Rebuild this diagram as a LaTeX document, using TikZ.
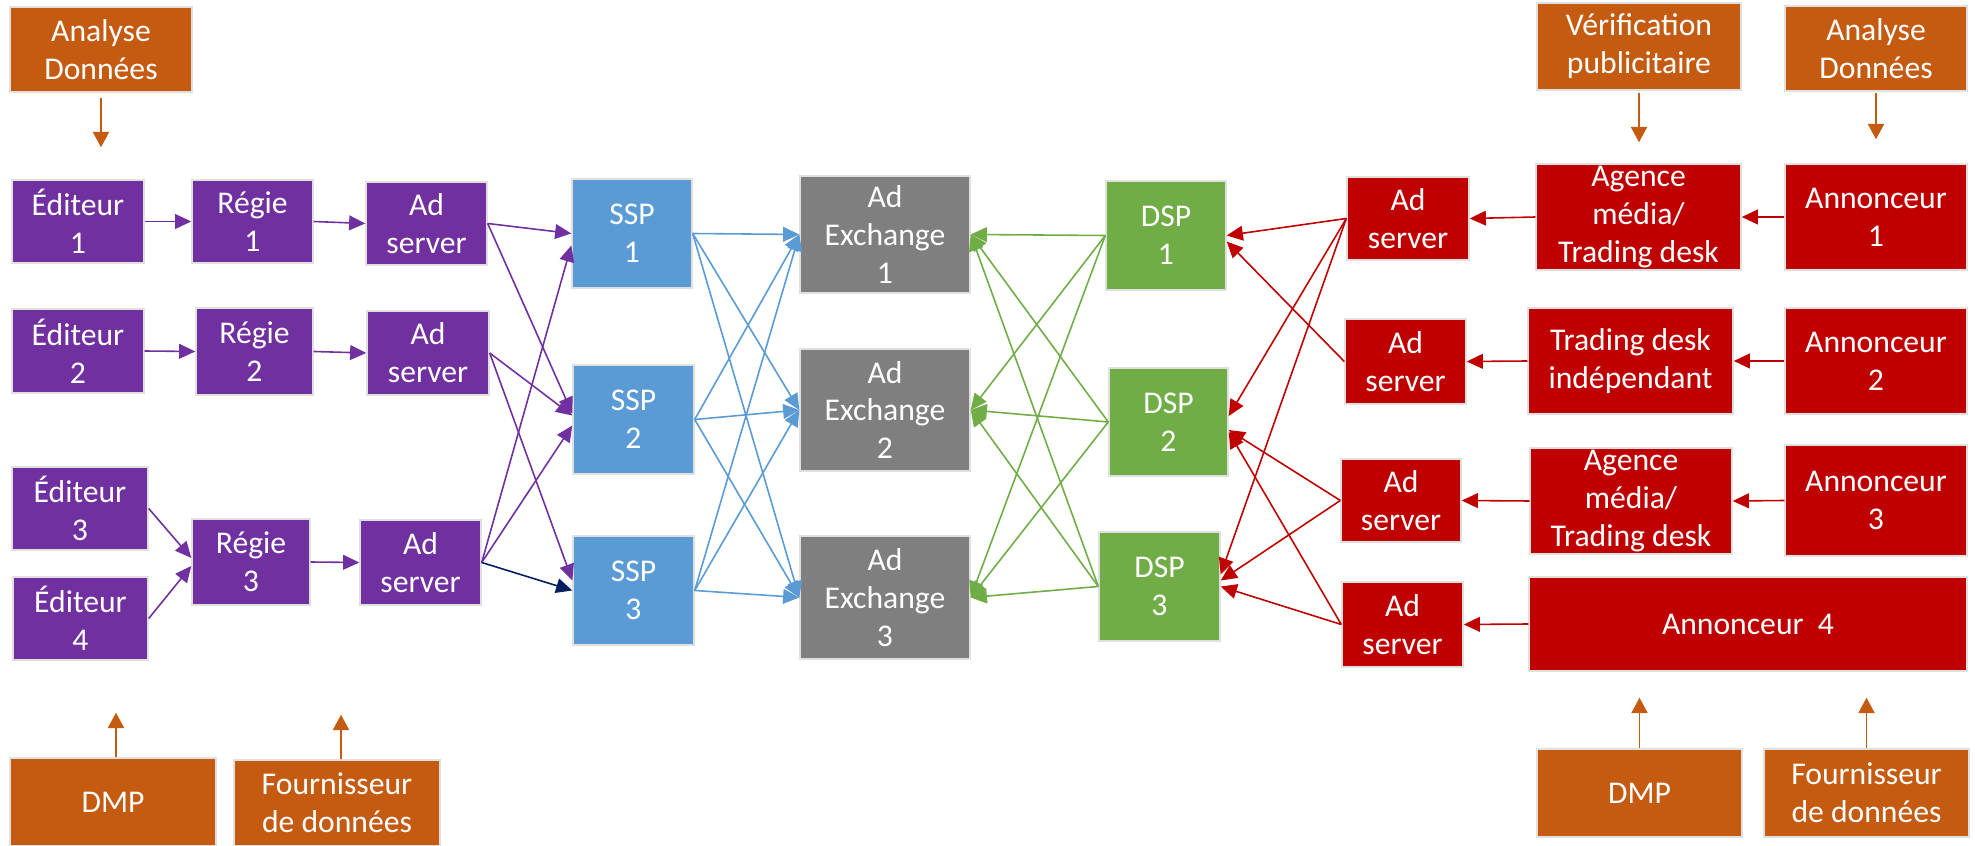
\documentclass[tikz,border=0pt]{standalone}
\usepackage{fontspec}
\setmainfont{Carlito}
\usetikzlibrary{arrows.meta}
\newdimen\px \px=0.01cm
\definecolor{cpurple}{HTML}{7030A0}
\definecolor{cblue}{HTML}{5B9BD5}
\definecolor{cgray}{HTML}{7F7F7F}
\definecolor{cgreen}{HTML}{70AD47}
\definecolor{cred}{HTML}{C00000}
\definecolor{corange}{HTML}{C55A11}
\definecolor{cnavy}{HTML}{002060}
\tikzset{
  box/.style={rectangle, inner sep=0pt, text=white, align=center,
    draw=black!12, line width=0.4pt, font=\fontsize{9pt}{10.8pt}\selectfont},
  pub/.style={box, fill=cpurple},
  sspbox/.style={box, fill=cblue},
  adxbox/.style={box, fill=cgray},
  dspbox/.style={box, fill=cgreen},
  buybox/.style={box, fill=cred},
  databox/.style={box, fill=corange},
  link/.style={line width=0.45pt, -{Triangle[length=4.6pt,width=4.2pt]}},
  plink/.style={link, draw=cpurple, fill=cpurple},
  blink/.style={link, draw=cblue, fill=cblue},
  glink/.style={link, draw=cgreen, fill=cgreen},
  rlink/.style={link, draw=cred, fill=cred},
  olink/.style={line width=0.5pt, draw=corange, -{Triangle[length=4.4pt,width=4.6pt]}, fill=corange},
}
% box from its corners: name, x1, y1, x2, y2, style, text
\newcommand\boxnode[7]{%
  \pgfmathsetmacro\bw{#4-#2}%
  \pgfmathsetmacro\bh{#5-#3}%
  \node[#6, minimum width=\bw\px, minimum height=\bh\px] (#1) at ({(#2+#4)/2},{(#3+#5)/2}) {#7};}
\begin{document}
\begin{tikzpicture}[x=0.01cm, y=-0.01cm]
\useasboundingbox (0,0) rectangle (1975,846);
\fill[white] (0,0) rectangle (1975,846);

% sell side
\boxnode{an1}{10}{7}{192}{92}{databox}{Analyse\\Données}
\boxnode{ed1}{12}{180}{144}{263}{pub}{Éditeur\\1}
\boxnode{reg1}{192}{180}{313}{263}{pub}{Régie\\1}
\boxnode{as1}{366}{182}{487}{265}{pub}{Ad\\server}
\boxnode{ed2}{12}{309}{144}{393}{pub}{Éditeur\\2}
\boxnode{reg2}{196}{308}{313}{395}{pub}{Régie\\2}
\boxnode{as2}{367}{311}{489}{395}{pub}{Ad\\server}
\boxnode{ed3}{12}{467}{148}{550}{pub}{Éditeur\\3}
\boxnode{ed4}{13}{577}{148}{660}{pub}{Éditeur\\4}
\boxnode{reg3}{192}{519}{310}{605}{pub}{Régie\\3}
\boxnode{as3}{360}{520}{481}{605}{pub}{Ad\\server}
\boxnode{dmp1}{10}{758}{216}{846}{databox}{DMP}
\boxnode{four1}{234}{760}{440}{846}{databox}{Fournisseur\\de données}

% SSPs and exchanges
\boxnode{ssp1}{572}{179}{692}{288}{sspbox}{SSP\\1}
\boxnode{ssp2}{573}{365}{694}{474}{sspbox}{SSP\\2}
\boxnode{ssp3}{573}{536}{694}{645}{sspbox}{SSP\\3}
\boxnode{ax1}{800}{176}{970}{293}{adxbox}{Ad\\Exchange\\1}
\boxnode{ax2}{800}{349}{970}{471}{adxbox}{Ad\\Exchange\\2}
\boxnode{ax3}{800}{536}{970}{659}{adxbox}{Ad\\Exchange\\3}

% buy side
\boxnode{dsp1}{1106}{181}{1226}{290}{dspbox}{DSP\\1}
\boxnode{dsp2}{1109}{368}{1228}{476}{dspbox}{DSP\\2}
\boxnode{dsp3}{1099}{532}{1220}{641}{dspbox}{DSP\\3}
\boxnode{asr1}{1347}{177}{1469}{260}{buybox}{Ad\\server}
\boxnode{asr2}{1345}{319}{1466}{404}{buybox}{Ad\\server}
\boxnode{asr3}{1341}{459}{1461}{542}{buybox}{Ad\\server}
\boxnode{asr4}{1342}{582}{1463}{667}{buybox}{Ad\\server}
\boxnode{ag1}{1536}{164}{1741}{270}{buybox}{Agence\\média/\\Trading desk}
\boxnode{td}{1528}{308}{1733}{414}{buybox}{Trading desk\\indépendant}
\boxnode{ag3}{1530}{448}{1732}{554}{buybox}{Agence\\média/\\Trading desk}
\boxnode{ann1}{1785}{164}{1967}{270}{buybox}{Annonceur\\1}
\boxnode{ann2}{1785}{308}{1967}{414}{buybox}{Annonceur\\2}
\boxnode{ann3}{1785}{445}{1967}{556}{buybox}{Annonceur\\3}
\boxnode{ann4}{1529}{577}{1967}{671}{buybox}{Annonceur\ \ 4}
\boxnode{ver}{1537}{3}{1741}{90}{databox}{Vérification\\publicitaire}
\boxnode{an2}{1785}{6}{1967}{91}{databox}{Analyse\\Données}
\boxnode{dmp2}{1537}{749}{1742}{837}{databox}{DMP}
\boxnode{four2}{1764}{749}{1969}{837}{databox}{Fournisseur\\de données}

% publisher chains
\draw[plink] (ed1.east) -- (reg1.west);
\draw[plink] (ed2.east) -- (reg2.west);
\draw[plink] (ed3.east) -- ([yshift=4\px]reg3.west);
\draw[plink] (ed4.east) -- ([yshift=-4\px]reg3.west);
\draw[plink] (reg1.east) -- (as1.west);
\draw[plink] (reg2.east) -- (as2.west);
\draw[plink] (reg3.east) -- (as3.west);

% ad servers to SSPs
\draw[plink] (as1.east) -- (ssp1.west);
\draw[plink] (as1.east) -- ([yshift=6\px]ssp2.west);
\draw[plink] (as2.east) -- ([yshift=4\px]ssp2.west);
\draw[plink] (as2.east) -- ([yshift=10\px]ssp3.west);
\draw[plink] (as3.east) -- ([yshift=-12\px]ssp1.west);
\draw[plink] (as3.east) -- ([yshift=-6\px]ssp2.west);
\draw[link, draw=cnavy, fill=cnavy] (as3.east) -- (ssp3.west);

% SSPs to exchanges, DSPs to exchanges
\foreach \s in {1,2,3}{\foreach \a in {1,2,3}{
  \draw[blink] (ssp\s.east) -- (ax\a.west);
  \draw[glink] (dsp\s.west) -- (ax\a.east);
}}

% advertiser ad servers to DSPs
\draw[rlink] (asr1.west) -- (dsp1.east);
\draw[rlink] (asr1.west) -- ([yshift=6\px]dsp2.east);
\draw[rlink] (asr1.west) -- ([yshift=12\px]dsp3.east);
\draw[rlink] (asr2.west) -- ([yshift=-6\px]dsp1.east);
\draw[rlink] (asr3.west) -- ([yshift=-8\px]dsp2.east);
\draw[rlink] (asr3.west) -- ([yshift=6\px]dsp3.east);
\draw[rlink] (asr4.west) -- ([yshift=-10\px]dsp2.east);
\draw[rlink] (asr4.west) -- (dsp3.east);

% advertiser chains
\draw[rlink] (ann1.west) -- (ag1.east);
\draw[rlink] (ag1.west) -- (asr1.east);
\draw[rlink] (ann2.west) -- (td.east);
\draw[rlink] (td.west) -- (asr2.east);
\draw[rlink] (ann3.west) -- (ag3.east);
\draw[rlink] (ag3.west) -- (asr3.east);
\draw[rlink] (ann4.west) -- (asr4.east);

% data services
\draw[olink, shorten <=5\px, shorten >=32\px] (an1.south) -- (an1.south |- ed1.north);
\draw[olink, shorten <=2\px, shorten >=21\px] (ver.south) -- (ver.south |- ag1.north);
\draw[olink, shorten <=1\px, shorten >=24\px] (an2.south) -- (an2.south |- ann1.north);
\draw[olink, shorten >=52\px] ([xshift=3\px]dmp1.north) -- ([xshift=3\px]dmp1.north |- ed4.south);
\draw[olink, shorten >=109\px] ([xshift=4\px]four1.north) -- ([xshift=4\px]four1.north |- reg3.south);
\draw[olink, shorten >=26\px] (dmp2.north) -- (dmp2.north |- ann4.south);
\draw[olink, shorten >=26\px] (four2.north) -- (four2.north |- ann4.south);
\end{tikzpicture}
\end{document}
